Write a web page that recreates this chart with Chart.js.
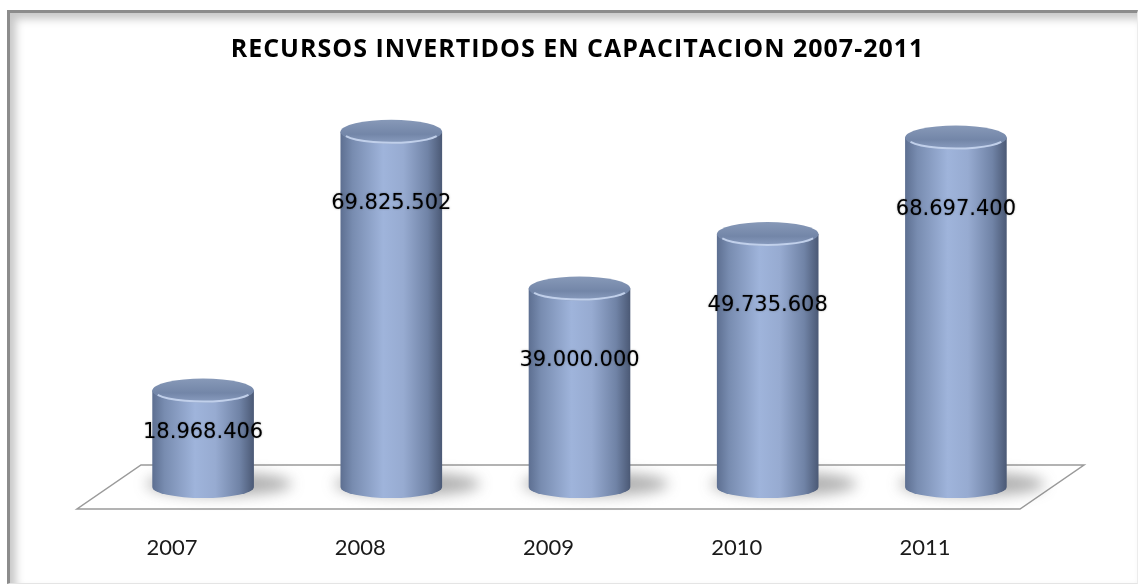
<!DOCTYPE html>
<html lang="es">
<head>
<meta charset="UTF-8">
<title>Recursos invertidos en capacitación 2007-2011</title>
<script src="https://cdn.jsdelivr.net/npm/chart.js"></script>
<style>
  html, body { margin: 0; padding: 0; background: #fff; }
  .frame {
    position: absolute; left: 7px; top: 10px; width: 1131px; height: 574px;
    box-sizing: border-box;
    border-top: 3px solid #8c8c8c; border-left: 3px solid #8c8c8c;
    border-right: 1px solid #ececec; border-bottom: 1px solid #e4e4e4;
    box-shadow: inset 6px 6px 9px rgba(0, 0, 0, 0.22);
  }
  .wrap { position: absolute; left: 0; top: 0; width: 1142px; height: 585px; }
</style>
</head>
<body>
<div class="frame"></div>
<div class="wrap"><canvas id="myChart"></canvas></div>
<script>
// Resources invested per year (pesos)
const years = ['2007', '2008', '2009', '2010', '2011'];
const recursos = [18968406, 69825502, 39000000, 49735608, 68697400];
const yMax = 80000000;
const chartTitle = 'RECURSOS INVERTIDOS EN CAPACITACION 2007-2011';

const BAR_PCT = 0.54;

function formatPesos(v) {
    return String(v).replace(/\B(?=(\d{3})+(?!\d))/g, '.');
}

// Horizontal shading that makes a flat bar read as a cylinder
function bodyGradient(ctx, left, right) {
    const g = ctx.createLinearGradient(left, 0, right, 0);
    g.addColorStop(0, '#5d6f91');
    g.addColorStop(0.12, '#788cb0');
    g.addColorStop(0.42, '#9fb4db');
    g.addColorStop(0.62, '#97abd1');
    g.addColorStop(0.86, '#7083a6');
    g.addColorStop(1, '#4b5975');
    return g;
}

function barHalfWidth(chart) {
    return chart.chartArea.width / years.length * BAR_PCT / 2;
}

const cylinders = {
    id: 'cylinders',
    beforeDatasetsDraw(chart) {
        const { ctx, chartArea } = chart;
        const { left, right, bottom } = chartArea;
        const skew = 32, depth = 22;

        // floor plane
        ctx.save();
        ctx.beginPath();
        ctx.moveTo(left - skew, bottom + depth);
        ctx.lineTo(right - skew + 2, bottom + depth);
        ctx.lineTo(right + skew + 2, bottom - depth);
        ctx.lineTo(left + skew, bottom - depth);
        ctx.closePath();
        ctx.fillStyle = '#ffffff';
        ctx.fill();
        ctx.strokeStyle = '#9a9a9a';
        ctx.lineWidth = 1.5;
        ctx.stroke();
        ctx.restore();

        // soft shadows behind each cylinder
        const half = barHalfWidth(chart);
        const meta = chart.getDatasetMeta(0);
        ctx.save();
        ctx.filter = 'blur(7px)';
        ctx.fillStyle = 'rgba(70, 70, 70, 0.42)';
        meta.data.forEach(bar => {
            ctx.beginPath();
            ctx.ellipse(bar.x + 16, bottom - 3, half + 22, 12, 0, 0, Math.PI * 2);
            ctx.fill();
        });
        ctx.restore();
    },
    afterDatasetsDraw(chart) {
        const { ctx, chartArea } = chart;
        const base = chartArea.bottom;
        const half = barHalfWidth(chart);
        const meta = chart.getDatasetMeta(0);
        const ry = 12;

        meta.data.forEach((bar, i) => {
            const l = bar.x - half, r = bar.x + half;
            ctx.save();

            // rounded bottom
            ctx.beginPath();
            ctx.ellipse(bar.x, base, half, ry - 1, 0, 0, Math.PI);
            ctx.fillStyle = bodyGradient(ctx, l, r);
            ctx.fill();

            // top cap
            ctx.beginPath();
            ctx.ellipse(bar.x, bar.y, half, ry, 0, 0, Math.PI * 2);
            const tg = ctx.createLinearGradient(0, bar.y - ry, 0, bar.y + ry);
            tg.addColorStop(0, '#8799b8');
            tg.addColorStop(0.6, '#7386a8');
            tg.addColorStop(1, '#8a9dc0');
            ctx.fillStyle = tg;
            ctx.fill();

            // highlight along the front rim of the cap
            ctx.beginPath();
            ctx.ellipse(bar.x, bar.y + 0.5, half - 2, ry - 1.5, 0, 0.12 * Math.PI, 0.88 * Math.PI);
            ctx.strokeStyle = 'rgba(200, 214, 240, 0.9)';
            ctx.lineWidth = 2;
            ctx.stroke();

            // value label
            const h = base - bar.y;
            const ty = bar.y + Math.min(72, 0.44 * h);
            ctx.font = '21px "DejaVu Sans"';
            ctx.textAlign = 'center';
            ctx.textBaseline = 'middle';
            ctx.shadowColor = 'rgba(0, 0, 0, 0.35)';
            ctx.shadowBlur = 2;
            ctx.fillStyle = '#000000';
            ctx.fillText(formatPesos(recursos[i]), bar.x, ty);
            ctx.restore();
        });
    },
    afterDraw(chart) {
        const { ctx, chartArea } = chart;
        ctx.save();
        ctx.font = 'bold 25px "Open Sans"';
        ctx.letterSpacing = '1px';
        ctx.textAlign = 'center';
        ctx.textBaseline = 'middle';
        ctx.fillStyle = '#000000';
        ctx.fillText(chartTitle, (chartArea.left + chartArea.right) / 2 - 2, 50);
        ctx.restore();
    }
};

const ctx = document.getElementById('myChart').getContext('2d');
const myChart = new Chart(ctx, {
    type: 'bar',
    data: {
        labels: years,
        datasets: [{
            label: 'Recursos',
            data: recursos,
            borderWidth: 0,
            categoryPercentage: 1,
            barPercentage: BAR_PCT,
            backgroundColor: context => {
                const chart = context.chart;
                if (!chart.chartArea || !chart.scales.x) return '#94a8cf';
                const cx = chart.scales.x.getPixelForValue(context.dataIndex);
                const half = barHalfWidth(chart);
                return bodyGradient(chart.ctx, cx - half, cx + half);
            }
        }]
    },
    options: {
        responsive: true,
        maintainAspectRatio: false,
        animation: false,
        layout: { padding: { left: 109, right: 92, top: 80, bottom: 25 } },
        scales: {
            x: {
                grid: { display: false, drawTicks: false },
                border: { display: false },
                ticks: {
                    color: '#1a1a1a',
                    font: { family: 'Lato', size: 22 },
                    padding: 48,
                    labelOffset: -31
                },
                afterFit(scale) { scale.height = 73; }
            },
            y: {
                display: false,
                min: 0,
                max: yMax
            }
        },
        plugins: {
            legend: { display: false },
            tooltip: { enabled: false },
            title: { display: false }
        }
    },
    plugins: [cylinders]
});
</script>
</body>
</html>
